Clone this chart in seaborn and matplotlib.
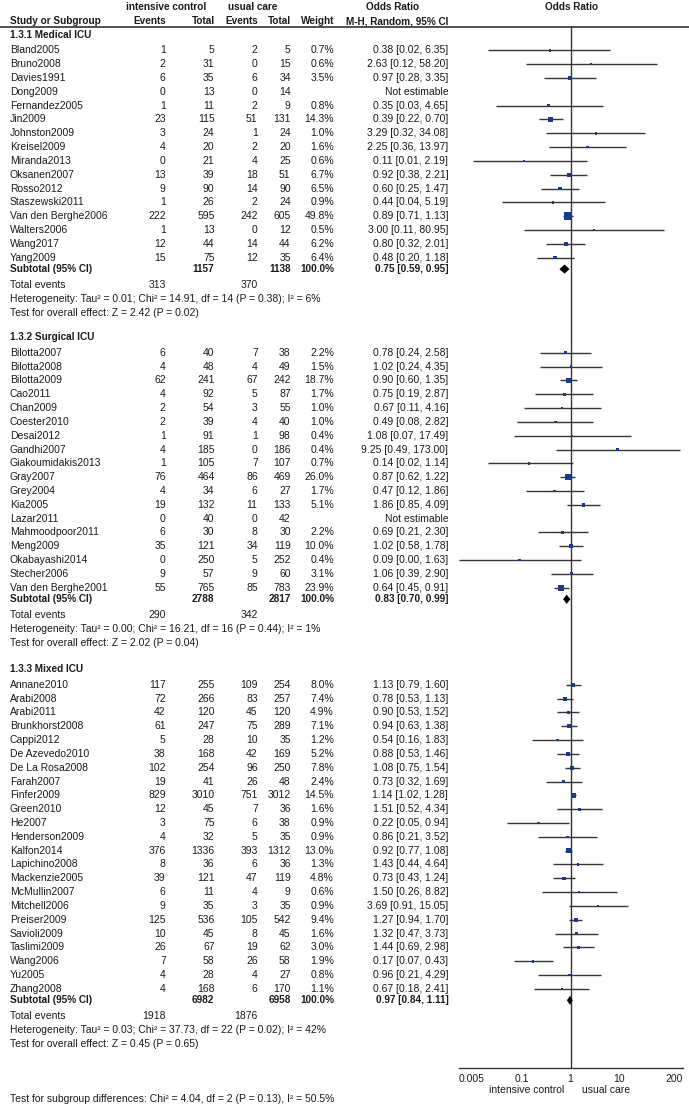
import numpy as np
import pandas as pd
import matplotlib.pyplot as plt
import seaborn as sns

# 1.3.1 Medical ICU
med_study = ["Bland2005", "Bruno2008", "Davies1991", "Dong2009", "Fernandez2005", "Jin2009",
             "Johnston2009", "Kreisel2009", "Miranda2013", "Oksanen2007", "Rosso2012",
             "Staszewski2011", "Van den Berghe2006", "Walters2006", "Wang2017", "Yang2009"]
med_ev_ic = [1, 2, 6, 0, 1, 23, 3, 4, 0, 13, 9, 1, 222, 1, 12, 15]
med_n_ic = [5, 31, 35, 13, 11, 115, 24, 20, 21, 39, 90, 26, 595, 13, 44, 75]
med_ev_uc = [2, 0, 6, 0, 2, 51, 1, 2, 4, 18, 14, 2, 242, 0, 14, 12]
med_n_uc = [5, 15, 34, 14, 9, 131, 24, 20, 25, 51, 90, 24, 605, 12, 44, 35]
med_weight = [0.7, 0.6, 3.5, np.nan, 0.8, 14.3, 1.0, 1.6, 0.6, 6.7, 6.5, 0.9, 49.8, 0.5, 6.2, 6.4]
med_or = [0.38, 2.63, 0.97, np.nan, 0.35, 0.39, 3.29, 2.25, 0.11, 0.92, 0.60, 0.44, 0.89, 3.00, 0.80, 0.48]
med_lo = [0.02, 0.12, 0.28, np.nan, 0.03, 0.22, 0.32, 0.36, 0.01, 0.38, 0.25, 0.04, 0.71, 0.11, 0.32, 0.20]
med_hi = [6.35, 58.20, 3.35, np.nan, 4.65, 0.70, 34.08, 13.97, 2.19, 2.21, 1.47, 5.19, 1.13, 80.95, 2.01, 1.18]

# 1.3.2 Surgical ICU
sur_study = ["Bilotta2007", "Bilotta2008", "Bilotta2009", "Cao2011", "Chan2009", "Coester2010",
             "Desai2012", "Gandhi2007", "Giakoumidakis2013", "Gray2007", "Grey2004", "Kia2005",
             "Lazar2011", "Mahmoodpoor2011", "Meng2009", "Okabayashi2014", "Stecher2006",
             "Van den Berghe2001"]
sur_ev_ic = [6, 4, 62, 4, 2, 2, 1, 4, 1, 76, 4, 19, 0, 6, 35, 0, 9, 55]
sur_n_ic = [40, 48, 241, 92, 54, 39, 91, 185, 105, 464, 34, 132, 40, 30, 121, 250, 57, 765]
sur_ev_uc = [7, 4, 67, 5, 3, 4, 1, 0, 7, 86, 6, 11, 0, 8, 34, 5, 9, 85]
sur_n_uc = [38, 49, 242, 87, 55, 40, 98, 186, 107, 469, 27, 133, 42, 30, 119, 252, 60, 783]
sur_weight = [2.2, 1.5, 18.7, 1.7, 1.0, 1.0, 0.4, 0.4, 0.7, 26.0, 1.7, 5.1, np.nan, 2.2, 10.0, 0.4, 3.1, 23.9]
sur_or = [0.78, 1.02, 0.90, 0.75, 0.67, 0.49, 1.08, 9.25, 0.14, 0.87, 0.47, 1.86, np.nan, 0.69, 1.02, 0.09, 1.06, 0.64]
sur_lo = [0.24, 0.24, 0.60, 0.19, 0.11, 0.08, 0.07, 0.49, 0.02, 0.62, 0.12, 0.85, np.nan, 0.21, 0.58, 0.00, 0.39, 0.45]
sur_hi = [2.58, 4.35, 1.35, 2.87, 4.16, 2.82, 17.49, 173.00, 1.14, 1.22, 1.86, 4.09, np.nan, 2.30, 1.78, 1.63, 2.90, 0.91]

# 1.3.3 Mixed ICU
mix_study = ["Annane2010", "Arabi2008", "Arabi2011", "Brunkhorst2008", "Cappi2012", "De Azevedo2010",
             "De La Rosa2008", "Farah2007", "Finfer2009", "Green2010", "He2007", "Henderson2009",
             "Kalfon2014", "Lapichino2008", "Mackenzie2005", "McMullin2007", "Mitchell2006",
             "Preiser2009", "Savioli2009", "Taslimi2009", "Wang2006", "Yu2005", "Zhang2008"]
mix_ev_ic = [117, 72, 42, 61, 5, 38, 102, 19, 829, 12, 3, 4, 376, 8, 39, 6, 9, 125, 10, 26, 7, 4, 4]
mix_n_ic = [255, 266, 120, 247, 28, 168, 254, 41, 3010, 45, 75, 32, 1336, 36, 121, 11, 35, 536, 45, 67, 58, 28, 168]
mix_ev_uc = [109, 83, 45, 75, 10, 42, 96, 26, 751, 7, 6, 5, 393, 6, 47, 4, 3, 105, 8, 19, 26, 4, 6]
mix_n_uc = [254, 257, 120, 289, 35, 169, 250, 48, 3012, 36, 38, 35, 1312, 36, 119, 9, 35, 542, 45, 62, 58, 27, 170]
mix_weight = [8.0, 7.4, 4.9, 7.1, 1.2, 5.2, 7.8, 2.4, 14.5, 1.6, 0.9, 0.9, 13.0, 1.3, 4.8, 0.6, 0.9, 9.4, 1.6, 3.0, 1.9, 0.8, 1.1]
mix_or = [1.13, 0.78, 0.90, 0.94, 0.54, 0.88, 1.08, 0.73, 1.14, 1.51, 0.22, 0.86, 0.92, 1.43, 0.73, 1.50, 3.69, 1.27, 1.32, 1.44, 0.17, 0.96, 0.67]
mix_lo = [0.79, 0.53, 0.53, 0.63, 0.16, 0.53, 0.75, 0.32, 1.02, 0.52, 0.05, 0.21, 0.77, 0.44, 0.43, 0.26, 0.91, 0.94, 0.47, 0.69, 0.07, 0.21, 0.18]
mix_hi = [1.60, 1.13, 1.52, 1.38, 1.83, 1.46, 1.54, 1.69, 1.28, 4.34, 0.94, 3.52, 1.08, 4.64, 1.24, 8.82, 15.05, 1.70, 3.73, 2.98, 0.43, 4.29, 2.41]

# subgroup summaries
group_names = ["1.3.1 Medical ICU", "1.3.2 Surgical ICU", "1.3.3 Mixed ICU"]
sub_n_ic = [1157, 2788, 6982]
sub_n_uc = [1138, 2817, 6958]
sub_ev_ic = [313, 290, 1918]
sub_ev_uc = [370, 342, 1876]
sub_or = [0.75, 0.83, 0.97]
sub_lo = [0.59, 0.70, 0.84]
sub_hi = [0.95, 0.99, 1.11]
sub_het = ["Heterogeneity: Tau\u00b2 = 0.01; Chi\u00b2 = 14.91, df = 14 (P = 0.38); I\u00b2 = 6%",
           "Heterogeneity: Tau\u00b2 = 0.00; Chi\u00b2 = 16.21, df = 16 (P = 0.44); I\u00b2 = 1%",
           "Heterogeneity: Tau\u00b2 = 0.03; Chi\u00b2 = 37.73, df = 22 (P = 0.02); I\u00b2 = 42%"]
sub_z = ["Test for overall effect: Z = 2.42 (P = 0.02)",
         "Test for overall effect: Z = 2.02 (P = 0.04)",
         "Test for overall effect: Z = 0.45 (P = 0.65)"]

axis_ticks = [0.005, 0.1, 1, 10, 200]
axis_labels = ["0.005", "0.1", "1", "10", "200"]

groups = [
    (med_study, med_ev_ic, med_n_ic, med_ev_uc, med_n_uc, med_weight, med_or, med_lo, med_hi),
    (sur_study, sur_ev_ic, sur_n_ic, sur_ev_uc, sur_n_uc, sur_weight, sur_or, sur_lo, sur_hi),
    (mix_study, mix_ev_ic, mix_n_ic, mix_ev_uc, mix_n_uc, mix_weight, mix_or, mix_lo, mix_hi),
]

# layout (pixel rows)
W, H = 689, 1107
header_y = [35, 337.5, 669.5]
step = 13.82
first_off = 15.3

sns.set_style("white")
plt.rcParams["font.family"] = ["Liberation Sans", "DejaVu Sans"]
fs = 7.45
fs_b = 7.2
tc = "#1a1a1a"

fig = plt.figure(figsize=(W / 100, H / 100), dpi=100)
ax_t = fig.add_axes([0, 0, 1, 1])
ax_t.set_xlim(0, W)
ax_t.set_ylim(H, 0)
ax_t.axis("off")

# forest axes: x 458.5..682.7 px, y 26..1068 px
fx0, fx1, fy0, fy1 = 458.5, 682.7, 26, 1068
ax_f = fig.add_axes([fx0 / W, (H - fy1) / H, (fx1 - fx0) / W, (fy1 - fy0) / H])
ax_f.patch.set_alpha(0)

x_name, x_e1, x_n1, x_e2, x_n2, x_w, x_or = 10, 165.7, 214.5, 257.7, 290.7, 334, 448.3


def txt(x, y, s, ha="right", bold=False):
    ax_t.text(x, y, s, ha=ha, va="center", fontsize=fs_b if bold else fs, color=tc,
              fontweight="bold" if bold else "normal")


# column headers
txt(166.5, 7, "intensive control", ha="center", bold=True)
txt(253, 7, "usual care", ha="center", bold=True)
txt(392.5, 7, "Odds Ratio", ha="center", bold=True)
txt(572, 7, "Odds Ratio", ha="center", bold=True)
txt(x_name, 21, "Study or Subgroup", ha="left", bold=True)
txt(x_e1, 21, "Events", bold=True)
txt(x_n1, 21, "Total", bold=True)
txt(x_e2, 21, "Events", bold=True)
txt(x_n2, 21, "Total", bold=True)
txt(x_w, 21, "Weight", bold=True)
txt(x_or, 21, "M-H, Random, 95% CI", bold=True)
ax_t.plot([0, W], [26.5, 26.5], color="#333333", lw=1.2)

rows = []
for g, (study, e1, n1, e2, n2, wt, orv, lo, hi) in enumerate(groups):
    hy = header_y[g]
    txt(x_name, hy, group_names[g], ha="left", bold=True)
    for i in range(len(study)):
        y = hy + first_off + i * step
        txt(x_name, y, study[i], ha="left")
        txt(x_e1, y, str(e1[i]))
        txt(x_n1, y, str(n1[i]))
        txt(x_e2, y, str(e2[i]))
        txt(x_n2, y, str(n2[i]))
        if np.isnan(orv[i]):
            txt(x_or, y, "Not estimable")
        else:
            txt(x_w, y, f"{wt[i]:.1f}%")
            txt(x_or, y, f"{orv[i]:.2f} [{lo[i]:.2f}, {hi[i]:.2f}]")
            rows.append({"y": y, "or": orv[i], "lo": lo[i], "hi": hi[i], "w": wt[i]})
    ys = hy + first_off + (len(study) - 1) * step + 11.5
    txt(x_name, ys, "Subtotal (95% CI)", ha="left", bold=True)
    txt(x_n1, ys, str(sub_n_ic[g]), bold=True)
    txt(x_n2, ys, str(sub_n_uc[g]), bold=True)
    txt(x_w, ys, "100.0%", bold=True)
    txt(x_or, ys, f"{sub_or[g]:.2f} [{sub_lo[g]:.2f}, {sub_hi[g]:.2f}]", bold=True)
    txt(x_name, ys + 16, "Total events", ha="left")
    txt(x_e1, ys + 16, str(sub_ev_ic[g]))
    txt(x_e2, ys + 16, str(sub_ev_uc[g]))
    txt(x_name, ys + 30, sub_het[g], ha="left")
    txt(x_name, ys + 44, sub_z[g], ha="left")
    # summary diamond
    ax_f.fill([sub_lo[g], sub_or[g], sub_hi[g], sub_or[g]], [ys, ys - 4.6, ys, ys + 4.6],
              color="black", lw=0, zorder=4)

df = pd.DataFrame(rows)
df["lo_draw"] = df["lo"].clip(lower=axis_ticks[0])

ax_f.hlines(df["y"], df["lo_draw"], df["hi"], color="#333333", lw=1.0, zorder=2)
sns.scatterplot(data=df, x="or", y="y", size="w", sizes=(3, 36), size_norm=(0.4, 49.8),
                marker="s", color="#1c3a8c", edgecolor="none", legend=False, ax=ax_f, zorder=3)

ax_f.axvline(1, color="#333333", lw=1.0, zorder=1)
ax_f.set_xscale("log")
ax_f.set_xlim(axis_ticks[0], axis_ticks[-1])
ax_f.set_ylim(fy1, fy0)
ax_f.set_xticks(axis_ticks)
ax_f.set_xticklabels(axis_labels)
ax_f.minorticks_off()
ax_f.set_yticks([])
ax_f.set_xlabel("")
ax_f.set_ylabel("")
for s in ["top", "left", "right"]:
    ax_f.spines[s].set_visible(False)
ax_f.spines["bottom"].set_color("#333333")
ax_f.spines["bottom"].set_linewidth(1.0)
ax_f.tick_params(axis="x", direction="inout", length=5, width=1.0, color="#333333",
                 labelsize=fs, labelcolor=tc, pad=1.5)
tick_lbls = ax_f.get_xticklabels()
tick_lbls[0].set_horizontalalignment("left")
tick_lbls[-1].set_horizontalalignment("right")

txt(526.7, 1090, "intensive control", ha="center")
txt(605.7, 1090, "usual care", ha="center")
txt(x_name, 1098.5, "Test for subgroup differences: Chi\u00b2 = 4.04, df = 2 (P = 0.13), I\u00b2 = 50.5%", ha="left")

fig.savefig("out.png", dpi=100)
